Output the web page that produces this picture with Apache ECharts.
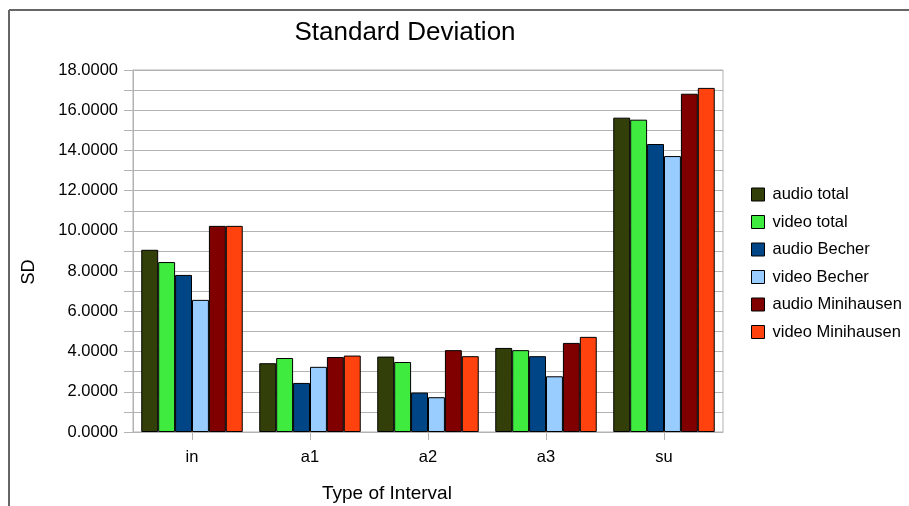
<!DOCTYPE html>
<html>
<head>
<meta charset="utf-8">
<script src="https://cdn.jsdelivr.net/npm/echarts@6/dist/echarts.min.js"></script>
<style>
html,body{margin:0;padding:0;background:#fff;}
#c{width:909px;height:506px;}
</style>
</head>
<body>
<div id="c"></div>
<script>
const categories = ['in', 'a1', 'a2', 'a3', 'su'];
const audioTotal = [9.06, 3.42, 3.75, 4.18, 15.63];
const videoTotal = [8.45, 3.68, 3.48, 4.07, 15.53];
const audioBecher = [7.81, 2.44, 1.96, 3.77, 14.32];
const videoBecher = [6.57, 3.24, 1.73, 2.77, 13.72];
const audioMini = [10.25, 3.73, 4.07, 4.43, 16.82];
const videoMini = [10.25, 3.80, 3.77, 4.73, 17.11];

const seriesNames = ['audio total', 'video total', 'audio Becher', 'video Becher', 'audio Minihausen', 'video Minihausen'];
const seriesData = [audioTotal, videoTotal, audioBecher, videoBecher, audioMini, videoMini];
const colors = ['#333f08', '#3feb3f', '#004586', '#99ccff', '#800000', '#ff420e'];

const FONT = 'Liberation Sans, Arial, sans-serif';
const chart = echarts.init(document.getElementById('c'), null, {renderer: 'canvas'});
chart.setOption({
  animation: false,
  textStyle: {fontFamily: FONT},
  title: {
    text: 'Standard Deviation',
    left: 400, top: 15, textAlign: 'center',
    textStyle: {fontFamily: FONT, fontSize: 26, fontWeight: 'normal', color: '#000'}
  },
  graphic: [
    {type: 'line', shape: {x1: 9, y1: 10, x2: 909, y2: 10}, style: {stroke: '#666', lineWidth: 2}},
    {type: 'line', shape: {x1: 9, y1: 10, x2: 9, y2: 506}, style: {stroke: '#666', lineWidth: 2}},
    {type: 'text', left: 322, top: 484, style: {text: 'Type of Interval', font: '19px ' + FONT, fill: '#000', textAlign: 'left'}},
    {type: 'text', x: 20, y: 272, rotation: Math.PI / 2, style: {text: 'SD', font: '18px ' + FONT, fill: '#000', textAlign: 'center', textVerticalAlign: 'top'}}
  ],
  legend: {
    orient: 'vertical',
    left: 751, top: 186, padding: 0,
    itemWidth: 13, itemHeight: 13, itemGap: 10.5, itemTextGap: 8,
    icon: 'rect',
    itemStyle: {borderColor: '#000', borderWidth: 1},
    textStyle: {fontFamily: FONT, fontSize: 16.5, color: '#000', padding: [0, 0, 0, 3]},
    data: seriesNames
  },
  grid: {
    left: 133, top: 70, width: 590, height: 362,
    show: true, borderColor: '#b3b3b3', borderWidth: 1, backgroundColor: 'transparent',
    containLabel: false
  },
  xAxis: {
    type: 'category',
    data: categories,
    axisLine: {lineStyle: {color: '#b3b3b3'}},
    axisTick: {show: true, alignWithLabel: true, length: 8, lineStyle: {color: '#b3b3b3'}},
    axisLabel: {fontFamily: FONT, fontSize: 16.5, color: '#000', margin: 17},
    splitLine: {show: false}
  },
  yAxis: {
    type: 'value',
    min: 0, max: 18, interval: 1,
    axisLine: {show: true, lineStyle: {color: '#b3b3b3'}},
    axisTick: {show: true, length: 9, lineStyle: {color: '#b3b3b3'}},
    axisLabel: {
      fontFamily: FONT, fontSize: 16.5, color: '#000', margin: 15,
      formatter: v => (v % 2 === 0 ? v.toFixed(4) : '')
    },
    splitLine: {show: true, lineStyle: {color: '#b3b3b3', width: 1}}
  },
  series: seriesNames.map((n, i) => ({
    name: n,
    type: 'bar',
    data: seriesData[i],
    barGap: '0%',
    barCategoryGap: '14%',
    itemStyle: {color: colors[i], borderColor: '#000', borderWidth: 1}
  }))
});
</script>
</body>
</html>
